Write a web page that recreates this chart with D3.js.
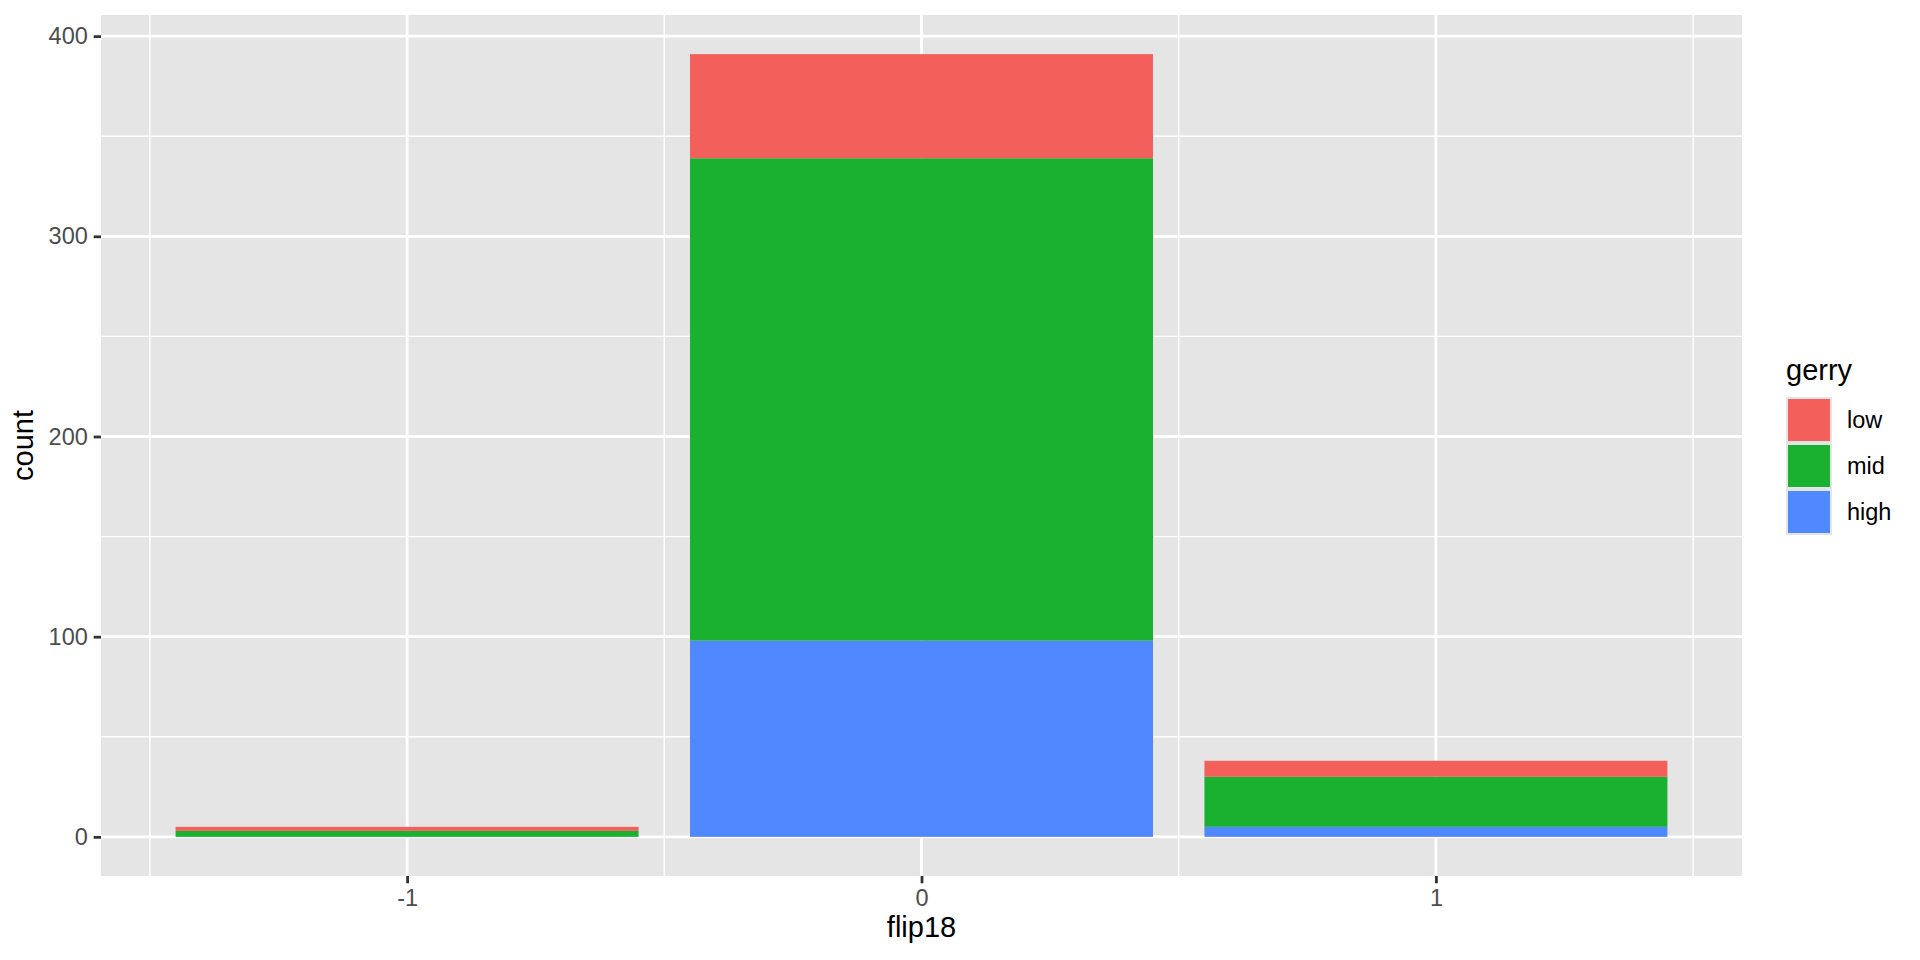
<!DOCTYPE html>
<html>
<head>
<meta charset="utf-8">
<script src="https://cdn.jsdelivr.net/npm/d3@7"></script>
<style>
  body { margin: 0; background: #fff; }
  svg text { font-family: "Liberation Sans", Arial, sans-serif; }
</style>
</head>
<body>
<div id="chart"></div>
<script>
// data
var flip18 = [-1, 0, 1];
var low = [2, 52, 8];
var mid = [3, 241, 25];
var high = [0, 98, 5];
var gerry = ["low", "mid", "high"];
var yTicks = [0, 100, 200, 300, 400];
var yMinor = [50, 150, 250, 350];
var xMinor = [-1.5, -0.5, 0.5, 1.5];

var width = 1920, height = 960;
var panel = { left: 101, right: 1742, top: 15, bottom: 876 };

var color = d3.scaleOrdinal()
    .domain(gerry)
    .range(["#F3605B", "#19B12F", "#5088FF"]);

// rows for d3.stack
var rows = flip18.map(function(f, i) {
    return { flip18: f, low: low[i], mid: mid[i], high: high[i] };
});
var stacked = d3.stack().keys(["high", "mid", "low"])(rows);

var yMax = d3.max(rows, function(d) { return d.low + d.mid + d.high; });
var yPad = yMax * 0.05;
var yScale = d3.scaleLinear()
    .domain([-yPad, yMax + yPad])
    .range([panel.bottom, panel.top]);

var xPad = (1.45 - -1.45) * 0.05;
var xScale = d3.scaleLinear()
    .domain([-1.45 - xPad, 1.45 + xPad])
    .range([panel.left, panel.right]);
var barW = xScale(0.45) - xScale(-0.45);

var svg = d3.select("#chart").append("svg")
    .attr("width", width).attr("height", height);

svg.append("rect").attr("width", width).attr("height", height).attr("fill", "#fff");

// panel background
svg.append("rect")
    .attr("x", panel.left).attr("y", panel.top)
    .attr("width", panel.right - panel.left)
    .attr("height", panel.bottom - panel.top)
    .attr("fill", "#E5E5E5");

var grid = svg.append("g");
grid.selectAll(".ymin").data(yMinor).enter().append("line")
    .attr("x1", panel.left).attr("x2", panel.right)
    .attr("y1", function(d) { return yScale(d); })
    .attr("y2", function(d) { return yScale(d); })
    .attr("stroke", "#fff").attr("stroke-width", 1.4);
grid.selectAll(".xmin").data(xMinor).enter().append("line")
    .attr("y1", panel.top).attr("y2", panel.bottom)
    .attr("x1", function(d) { return xScale(d); })
    .attr("x2", function(d) { return xScale(d); })
    .attr("stroke", "#fff").attr("stroke-width", 1.4);
grid.selectAll(".ymaj").data(yTicks).enter().append("line")
    .attr("x1", panel.left).attr("x2", panel.right)
    .attr("y1", function(d) { return yScale(d); })
    .attr("y2", function(d) { return yScale(d); })
    .attr("stroke", "#fff").attr("stroke-width", 2.8);
grid.selectAll(".xmaj").data(flip18).enter().append("line")
    .attr("y1", panel.top).attr("y2", panel.bottom)
    .attr("x1", function(d) { return xScale(d); })
    .attr("x2", function(d) { return xScale(d); })
    .attr("stroke", "#fff").attr("stroke-width", 2.8);

// bars
var layers = svg.append("g").selectAll("g").data(stacked).enter().append("g")
    .attr("fill", function(d) { return color(d.key); });
layers.selectAll("rect").data(function(d) { return d; }).enter().append("rect")
    .attr("x", function(d) { return xScale(d.data.flip18) - barW / 2; })
    .attr("width", barW)
    .attr("y", function(d) { return yScale(d[1]); })
    .attr("height", function(d) { return yScale(d[0]) - yScale(d[1]); });

// axes
var yAxis = d3.axisLeft(yScale).tickValues(yTicks).tickSize(7.3).tickPadding(5.9);
var gy = svg.append("g").attr("transform", "translate(" + panel.left + ",0)").call(yAxis);
var xAxis = d3.axisBottom(xScale).tickValues(flip18).tickSize(7.3).tickPadding(5.9)
    .tickFormat(function(d) { return String(d); });
var gx = svg.append("g").attr("transform", "translate(0," + panel.bottom + ")").call(xAxis);

[gx, gy].forEach(function(g) {
    g.select(".domain").remove();
    g.selectAll(".tick line").attr("stroke", "#333333").attr("stroke-width", 2.8);
    g.selectAll(".tick text").attr("fill", "#4D4D4D").style("font-size", "23.5px");
});
gx.selectAll(".tick text").attr("dy", "0.72em");

// axis titles
svg.append("text")
    .attr("x", (panel.left + panel.right) / 2).attr("y", 937)
    .attr("text-anchor", "middle").style("font-size", "29px").attr("fill", "#000")
    .text("flip18");
svg.append("text")
    .attr("transform", "translate(33," + (panel.top + panel.bottom) / 2 + ") rotate(-90)")
    .attr("text-anchor", "middle").style("font-size", "29px").attr("fill", "#000")
    .text("count");

// legend
var legend = svg.append("g").attr("transform", "translate(1786,397)");
legend.append("text").attr("x", 0).attr("y", -17)
    .style("font-size", "29px").attr("fill", "#000").text("gerry");
var keys = legend.selectAll(".key").data(gerry).enter().append("g")
    .attr("transform", function(d, i) { return "translate(0," + i * 46 + ")"; });
keys.append("rect").attr("width", 46).attr("height", 46).attr("fill", "#E5E5E5");
keys.append("rect").attr("x", 2).attr("y", 2).attr("width", 42).attr("height", 42)
    .attr("fill", function(d) { return color(d); });
keys.append("text").attr("x", 61).attr("y", 23).attr("dy", "0.35em")
    .style("font-size", "23.5px").attr("fill", "#000")
    .text(function(d) { return d; });
</script>
</body>
</html>
